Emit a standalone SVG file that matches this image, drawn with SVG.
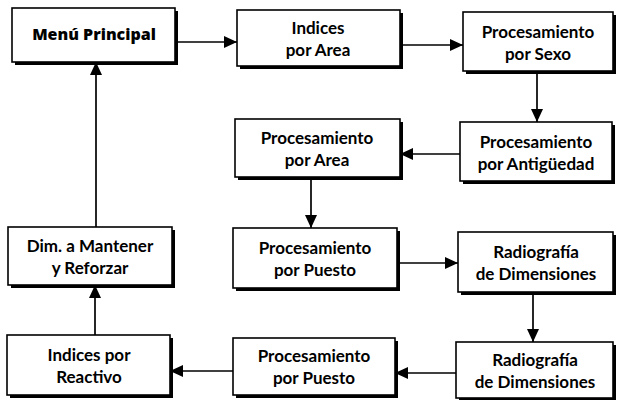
<svg xmlns="http://www.w3.org/2000/svg" width="617" height="400" viewBox="0 0 617 400">
<style>
.bg{fill:#fff}
.sh{fill:#000}
.box{fill:#fff;stroke:#000;stroke-width:1.6}
.t{font-family:Lato,"Open Sans","Liberation Sans",sans-serif;font-size:17px;font-weight:700;fill:#000;text-anchor:middle}
.tb{font-family:"Open Sans","Liberation Sans",sans-serif;font-size:16px;font-weight:800;fill:#000;text-anchor:middle}
.c{fill:none;stroke:#000;stroke-width:1.7}
</style>
<defs>
<marker id="ah" markerUnits="userSpaceOnUse" markerWidth="14" markerHeight="12" refX="13" refY="6" orient="auto">
<path d="M0,0 L13,6 L0,12 Z" fill="#000"/>
</marker>
</defs>
<rect class="bg" x="0" y="0" width="617" height="400"/>
<g id="connectors">
<path class="c" d="M175 42 H237" marker-end="url(#ah)"/>
<path class="c" d="M400 45 H463" marker-end="url(#ah)"/>
<path class="c" d="M537 71 V122" marker-end="url(#ah)"/>
<path class="c" d="M460 154 H400" marker-end="url(#ah)"/>
<path class="c" d="M311 177 V228" marker-end="url(#ah)"/>
<path class="c" d="M397 263 H458" marker-end="url(#ah)"/>
<path class="c" d="M533 292 V342" marker-end="url(#ah)"/>
<path class="c" d="M456 373 H395" marker-end="url(#ah)"/>
<path class="c" d="M233 371 H170" marker-end="url(#ah)"/>
<path class="c" d="M95 335 V285" marker-end="url(#ah)"/>
<path class="c" d="M96 227 V62" marker-end="url(#ah)"/>
</g>
<g id="menu">
<rect class="sh" x="15" y="11" width="163" height="54"/>
<rect class="box" x="12" y="8" width="163" height="54"/>
<text class="tb" x="94" y="40">Menú Principal</text>
</g>
<g id="indices-area">
<rect class="sh" x="240" y="13" width="163" height="56"/>
<rect class="box" x="237" y="10" width="163" height="56"/>
<text class="t" x="318" y="34">Indices</text>
<text class="t" x="318" y="56">por Area</text>
</g>
<g id="sexo">
<rect class="sh" x="466" y="15" width="150" height="59"/>
<rect class="box" x="463" y="12" width="150" height="59"/>
<text class="t" x="538" y="38">Procesamiento</text>
<text class="t" x="538" y="60">por Sexo</text>
</g>
<g id="antiguedad">
<rect class="sh" x="463" y="125" width="152" height="59"/>
<rect class="box" x="460" y="122" width="152" height="59"/>
<text class="t" x="536" y="148">Procesamiento</text>
<text class="t" x="536" y="170">por Antigüedad</text>
</g>
<g id="proc-area">
<rect class="sh" x="238" y="122" width="165" height="58"/>
<rect class="box" x="235" y="119" width="165" height="58"/>
<text class="t" x="317" y="144">Procesamiento</text>
<text class="t" x="317" y="166">por Area</text>
</g>
<g id="dim">
<rect class="sh" x="11" y="230" width="164" height="58"/>
<rect class="box" x="8" y="227" width="164" height="58"/>
<text class="t" x="90" y="252">Dim. a Mantener</text>
<text class="t" x="90" y="274">y Reforzar</text>
</g>
<g id="puesto1">
<rect class="sh" x="236" y="231" width="164" height="60"/>
<rect class="box" x="233" y="228" width="164" height="60"/>
<text class="t" x="315" y="254">Procesamiento</text>
<text class="t" x="315" y="276">por Puesto</text>
</g>
<g id="radio1">
<rect class="sh" x="461" y="235" width="155" height="60"/>
<rect class="box" x="458" y="232" width="155" height="60"/>
<text class="t" x="536" y="258">Radiografía</text>
<text class="t" x="536" y="280">de Dimensiones</text>
</g>
<g id="reactivo">
<rect class="sh" x="10" y="338" width="163" height="60"/>
<rect class="box" x="7" y="335" width="163" height="60"/>
<text class="t" x="89" y="361">Indices por</text>
<text class="t" x="89" y="383">Reactivo</text>
</g>
<g id="puesto2">
<rect class="sh" x="236" y="341" width="162" height="57"/>
<rect class="box" x="233" y="338" width="162" height="57"/>
<text class="t" x="314" y="362">Procesamiento</text>
<text class="t" x="314" y="384">por Puesto</text>
</g>
<g id="radio2">
<rect class="sh" x="459" y="345" width="157" height="56"/>
<rect class="box" x="456" y="342" width="157" height="56"/>
<text class="t" x="535" y="366">Radiografía</text>
<text class="t" x="535" y="388">de Dimensiones</text>
</g>
</svg>
